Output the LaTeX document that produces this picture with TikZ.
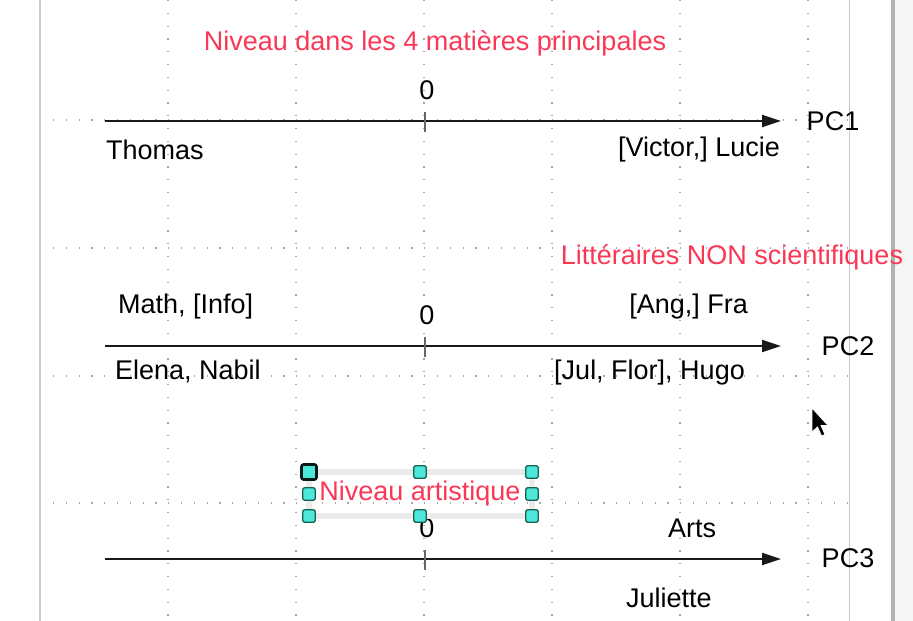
\documentclass[tikz,border=0pt]{standalone}
\usepackage{fontspec}
\setmainfont{Liberation Sans}
\usetikzlibrary{arrows.meta}

\definecolor{rougetitre}{RGB}{250,55,85}
\definecolor{cyanpoignee}{RGB}{75,232,218}
\definecolor{bordpoignee}{RGB}{25,95,80}

\tikzset{
  texte/.style={font=\fontsize{27}{31}\selectfont, inner sep=0pt},
  titre/.style={texte, text=rougetitre},
  axe/.style={line width=1.8pt, draw=black!90, -{Triangle[length=19pt,width=12pt]}},
  graduation/.style={line width=2.4pt, draw=black!60},
  grille/.style={draw=black!35, line width=1.2pt, dash pattern=on 1.2pt off 11.6pt},
  poignee/.style={draw=bordpoignee, fill=cyanpoignee, line width=1.3pt, rounded corners=2pt, minimum size=12.5pt, inner sep=0pt},
}

\begin{document}
\begin{tikzpicture}[x=1pt, y=-1pt]
    \useasboundingbox (0,0) rectangle (913,621);

    % Grille et bords de la page
    \foreach \x in {168,296,...,808} \draw[grille] (\x,0) -- (\x,621);
    \foreach \y in {120,248,376,503} \draw[grille] (53,\y) -- (848,\y);
    \draw[black!20, line width=2pt] (40,0) -- (40,621);
    \draw[black!22, line width=1pt] (849,0) -- (849,621);
    \fill[black!4] (895,0) rectangle (913,621);
    \draw[black!30, line width=4pt] (893,0) -- (893,621);

    % Axe PC1
    \node[titre] (titre1) at (435,43) {Niveau dans les 4 matières principales};
    \coordinate (g1) at (105,121);
    \coordinate (d1) at (781,121);
    \coordinate (o1) at (425,121);
    \draw[axe] (g1) -- (d1);
    \draw[graduation] (o1) ++(0,-9) -- ++(0,20);
    \node[texte] (zero1) at (427,90) {0};
    \node[texte] (pc1) at (833,121) {PC1};
    \node[texte, anchor=west] (thomas) at (106,150) {Thomas};
    \node[texte, anchor=east] (lucie) at (780,150) {[Victor,] Lucie};

    % Axe PC2
    \node[titre] (titre2) at (732,257) {Littéraires NON scientifiques};
    \coordinate (g2) at (105,346);
    \coordinate (d2) at (781,346);
    \coordinate (o2) at (425,346);
    \draw[axe] (g2) -- (d2);
    \draw[graduation] (o2) ++(0,-9) -- ++(0,20);
    \node[texte] (zero2) at (427,315) {0};
    \node[texte] (pc2) at (848,346) {PC2};
    \node[texte, anchor=west] (math) at (118,307) {Math, [Info]};
    \node[texte, anchor=east] (fra) at (748,307) {[Ang,] Fra};
    \node[texte, anchor=west] (elena) at (115,371) {Elena, Nabil};
    \node[texte, anchor=east] (hugo) at (745,373) {[Jul, Flor], Hugo};

    % Axe PC3
    \coordinate (g3) at (105,559);
    \coordinate (d3) at (781,559);
    \coordinate (o3) at (425,559);
    \draw[axe] (g3) -- (d3);
    \draw[graduation] (o3) ++(0,-9) -- ++(0,20);
    \node[texte] (zero3) at (427,528) {0};
    \node[texte] (pc3) at (848,558) {PC3};
    \node[texte, anchor=west] (arts) at (668,528) {Arts};
    \node[texte, anchor=west] (juliette) at (626,598) {Juliette};

    % Zone de texte sélectionnée
    \draw[blue!6!black!8, line width=6pt] (309,472) rectangle (532,516);
    \node[titre] (titre3) at (420,494) {Niveau artistique};
    \foreach \x/\y/\n in {420/472/ph, 532/472/phd, 309/494/pg, 532/494/pd, 309/516/pbg, 420/516/pb, 532/516/pbd}
        \node[poignee] (\n) at (\x,\y) {};
    \node[poignee, minimum size=15pt, line width=2.6pt, draw=black!70!bordpoignee] (phg) at (309,472) {};

    % Curseur
    \filldraw[fill=black, draw=white, line width=0.8pt]
        (812,408) -- (812,432) -- (817.5,427) -- (821.5,436) -- (825,434.5)
        -- (821,425.5) -- (828,425.5) -- cycle;
\end{tikzpicture}
\end{document}
